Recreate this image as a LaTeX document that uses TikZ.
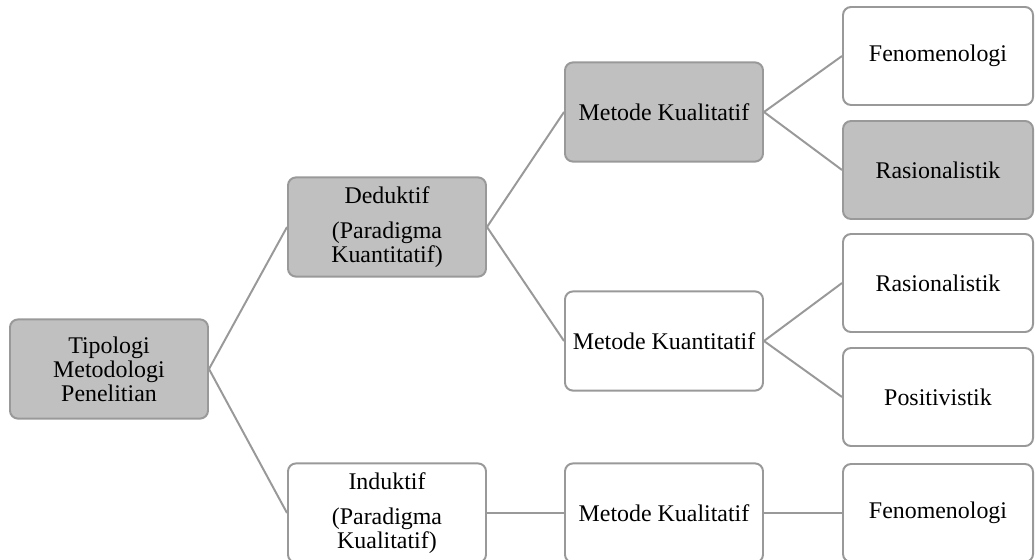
\documentclass[tikz,border=0pt]{standalone}
\usepackage{fontspec}
\setmainfont{Liberation Serif}
\usepackage{xcolor}
\usetikzlibrary{positioning}
\definecolor{boxgray}{HTML}{C0C0C0}
\definecolor{linegray}{HTML}{999999}

\begin{document}
\begin{tikzpicture}[-,thick,
  box/.style={rectangle,rounded corners=0.2cm,draw=linegray,line width=1.4pt,fill=white,
    minimum width=4.95cm,minimum height=2.48cm,align=center,inner sep=1pt,
    font=\fontsize{17}{17}\selectfont},
  greybox/.style={box,fill=boxgray},
  leaf/.style={box,minimum width=4.75cm,minimum height=2.45cm},
  greyleaf/.style={leaf,fill=boxgray}]

	\useasboundingbox (0,0) rectangle (25.875,-13.975);

	% The tree
	\node [greybox] at (2.725,-9.225) (tip) {Tipologi\\Metodologi\\Penelitian};
	\node [greybox] at (9.675,-5.675) (ded) {Deduktif\\[8pt](Paradigma\\Kuantitatif)};
	\node [box] at (9.675,-12.825) (ind) {Induktif\\[8pt](Paradigma\\Kualitatif)};

	\node [greybox] at (16.6,-2.8) (dKual) {Metode Kualitatif};
	\node [box] at (16.6,-8.525) (dKuan) {Metode Kuantitatif};
	\node [box] at (16.6,-12.825) (iKual) {Metode Kualitatif};

	\node [leaf] at (23.45,-1.4) (dFen) {Fenomenologi};
	\node [greyleaf] at (23.45,-4.25) (dRas) {Rasionalistik};
	\node [leaf] at (23.45,-7.075) (nRas) {Rasionalistik};
	\node [leaf] at (23.45,-9.925) (nPos) {Positivistik};
	\node [leaf] at (23.45,-12.825) (iFen) {Fenomenologi};

	% Tree edges
	\path[draw=linegray,line width=1.4pt]
	(tip.east) edge (ded.west)
	(tip.east) edge (ind.west)
	(ded.east) edge (dKual.west)
	(ded.east) edge (dKuan.west)
	(dKual.east) edge (dFen.west)
	(dKual.east) edge (dRas.west)
	(dKuan.east) edge (nRas.west)
	(dKuan.east) edge (nPos.west)
	(ind.east) edge (iKual.west)
	(iKual.east) edge (iFen.west);

\end{tikzpicture}
\end{document}
